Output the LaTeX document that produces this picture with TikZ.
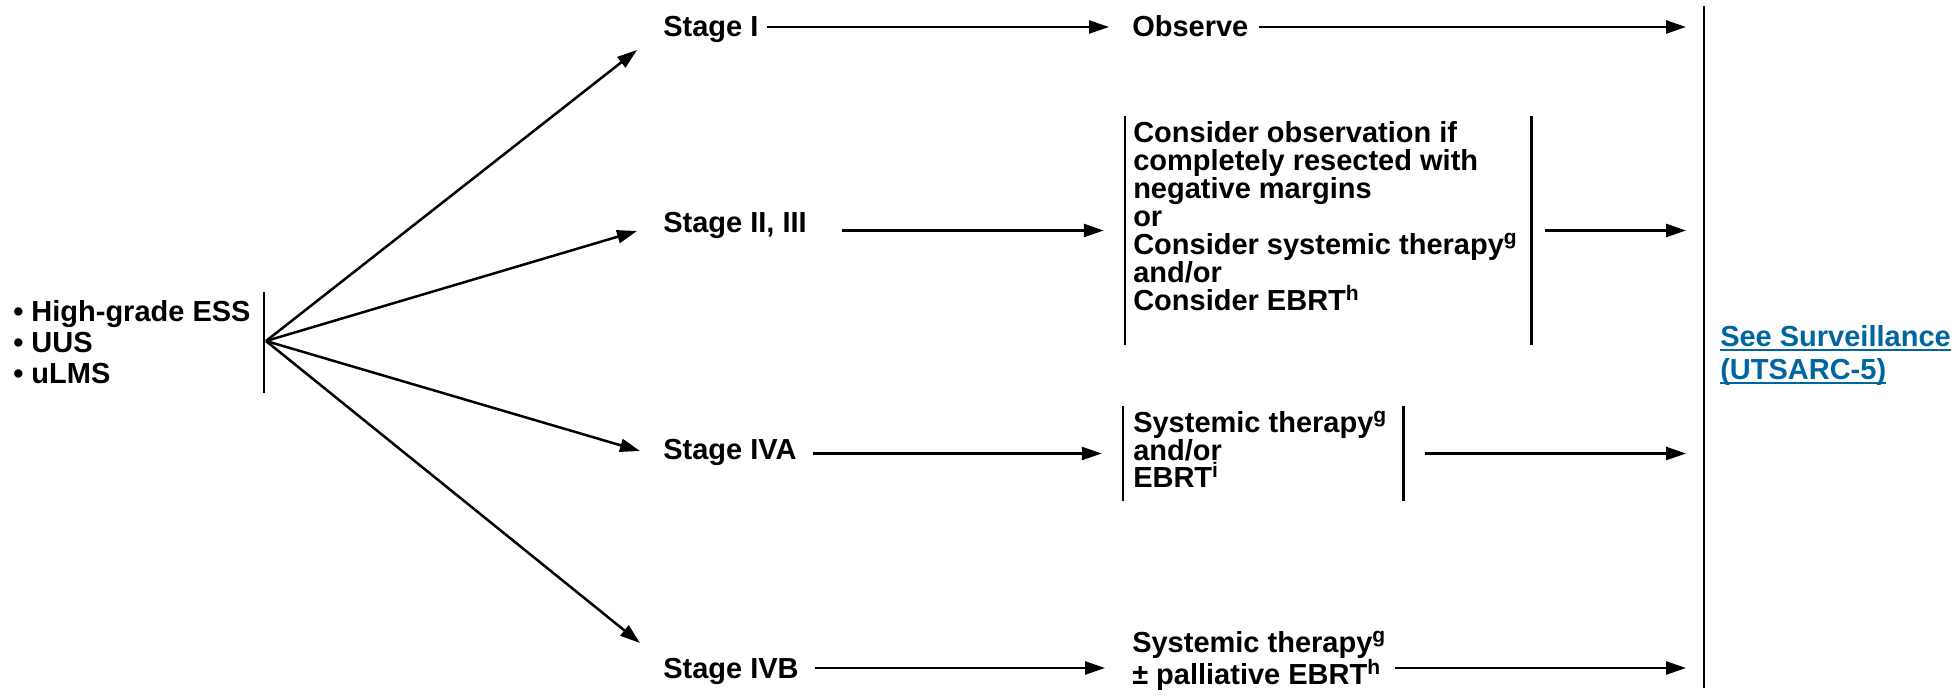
\documentclass[tikz,border=0pt]{standalone}
\usepackage{fontspec}
\setmainfont{Liberation Sans}
\usetikzlibrary{arrows.meta}
\definecolor{linkblue}{RGB}{0,102,161}
\newcommand\ulnk[1]{\setbox0\hbox{#1}\rlap{\rule[-5pt]{\wd0}{2pt}}\box0}
\newcommand\sups[1]{\raisebox{10pt}{\fontsize{21}{21}\selectfont #1}}

\begin{document}
\begin{tikzpicture}[x=1pt,y=-1pt,line width=2.5pt,
    arr/.style={-{Triangle[length=20pt,width=13pt]}},
    lbl/.style={inner sep=0pt,anchor=base west,text height=22pt,text depth=2pt,
                font=\fontsize{29}{29}\selectfont\bfseries},
    blk/.style={inner sep=0pt,anchor=north west,align=left},
    brk/.style={inner sep=0pt,draw=none}]
  \useasboundingbox (0,0) rectangle (1955,698);

  % ------- diagnosis -------
  \node[blk,font=\fontsize{29}{31}\selectfont\bfseries] (dx) at (12,299)
        {• High-grade ESS\\• UUS\\• uLMS};
  \draw (264,292) -- (264,393);
  \coordinate (fan) at (266,341);

  % ------- stages -------
  \node[lbl] (s1) at (662,37)  {Stage I};
  \node[lbl] (s2) at (662,232) {Stage II, III};
  \node[lbl] (s3) at (662,459) {Stage IVA};
  \node[lbl] (s4) at (662,678) {Stage IVB};

  \coordinate (e1) at (637,50);
  \coordinate (e2) at (637,231);
  \coordinate (e3) at (640,451);
  \coordinate (e4) at (640,643);
  \foreach \e in {e1,e2,e3,e4}
    \draw[arr] (fan) -- (\e);

  % ------- treatment -------
  \node[lbl] (obs) at (1131,37) {Observe};

  \node[brk,minimum width=404pt,minimum height=227pt] (b2) at (1328,230.5) {};
  \draw (b2.north west) -- (b2.south west)
        (b2.north east) -- (b2.south east);
  \node[blk,font=\fontsize{29}{28}\selectfont\bfseries] (t2) at (1132,120)
        {Consider observation if\\completely resected with\\negative margins\\or\\
         Consider systemic therapy\sups{g}\\and/or\\Consider EBRT\sups{h}};

  \node[brk,minimum width=278pt,minimum height=93pt] (b3) at (1263,453.5) {};
  \draw (b3.north west) -- (b3.south west)
        (b3.north east) -- (b3.south east);
  \node[blk,font=\fontsize{29}{26.5}\selectfont\bfseries] (t3) at (1132,410)
        {Systemic therapy\sups{g}\\and/or\\EBRT\sups{i}};

  \node[blk,font=\fontsize{29}{25}\selectfont\bfseries] (t4) at (1131,630)
        {Systemic therapy\sups{g}\\± palliative EBRT\sups{h}};

  % ------- follow-up -------
  \coordinate (bar) at (1704,0);
  \draw (1704,6) -- (1704,688);
  \node[blk,text=linkblue,font=\fontsize{29}{33}\selectfont\bfseries] (sv) at (1719,324)
        {\ulnk{See Surveillance}\\\ulnk{(UTSARC-5)}};

  % ------- arrows -------
  \draw[arr,shorten <=7pt,shorten >=22pt] (s1.east) -- (obs.west);
  \draw[arr,shorten <=9pt,shorten >=18pt] (obs.east) -- (obs.east -| bar);
  \draw[arr,shorten <=34pt,shorten >=21pt] (s2.east |- b2.west) -- (b2.west);
  \draw[arr,shorten <=14pt,shorten >=18pt] (b2.east) -- (b2.east -| bar);
  \draw[arr,shorten <=15pt,shorten >=21pt] (s3.east |- b3.west) -- (b3.west);
  \draw[arr,shorten <=22pt,shorten >=18pt] (b3.east) -- (b3.east -| bar);
  \draw[arr,shorten <=15pt,shorten >=26pt] (s4.east) -- (s4.east -| t4.west);
  \draw[arr,shorten <=8pt,shorten >=18pt] (t4.east |- s4.east) -- (s4.east -| bar);
\end{tikzpicture}
\end{document}
